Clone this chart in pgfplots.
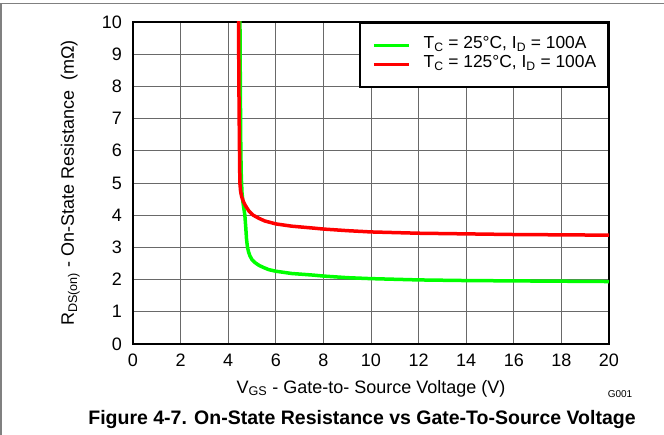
\documentclass[border=0pt]{standalone}
\usepackage{fontspec}
\setmainfont{Liberation Sans}
\usepackage{pgfplots}
\pgfplotsset{compat=1.18}
\definecolor{gridc}{RGB}{105,105,105}
\definecolor{framec}{RGB}{128,128,128}
\definecolor{cgreen}{RGB}{0,255,0}
\definecolor{cred}{RGB}{255,0,0}
\begin{document}
\fontsize{18bp}{21bp}\selectfont
\begin{tikzpicture}
\useasboundingbox (-133bp,-91bp) rectangle (531bp,344bp);
\begin{axis}[
 at={(0,0)}, anchor=south west,
 scale only axis, width=476bp, height=322bp,
 xmin=0, xmax=20, ymin=0, ymax=10,
 xtick={0,2,...,20}, ytick={0,1,...,10},
 grid=major, grid style={gridc, line width=0.8bp},
 major tick length=0pt,
 axis line style={line width=1.6bp, black},
 /pgf/number format/assume math mode=true,
 tick label style={font=\fontsize{18bp}{21bp}\selectfont},
 xticklabel style={anchor=base, yshift=-22.7bp},
 yticklabel style={anchor=east, inner sep=0pt, xshift=-11bp},
 xlabel={V\textsubscript{GS} - Gate-to- Source Voltage (V)},
 ylabel={R\textsubscript{DS(on)} - On-State Resistance\ \ (mΩ)},
 every axis x label/.style={at={(axis description cs:0.5,-0.1522)}, anchor=base},
 every axis y label/.style={at={(axis description cs:-0.124,0.5)}, rotate=90, anchor=base},
 legend style={at={(rel axis cs:1,1)}, anchor=north east, draw=black, line width=1.6bp, fill=white,
   inner xsep=12bp, inner ysep=13bp, row sep=0pt,
   font=\fontsize{17.4bp}{21bp}\selectfont,
   nodes={inner sep=0pt, text height=13bp, text depth=6bp},
   /tikz/every odd column/.append style={column sep=13bp}},
 legend cell align=left,
 legend image code/.code={\draw[#1] (0bp,0bp) -- (35bp,0bp);},
]
\addplot[cgreen, line width=3.5bp] coordinates {
(4.49,10.5) (4.51,8) (4.53,6) (4.55,5.2) (4.58,4.7) (4.62,4.4) (4.66,4.2) (4.70,4.0)
(4.74,3.6) (4.77,3.26) (4.81,3.0) (4.86,2.85) (4.91,2.74) (5.0,2.62) (5.12,2.53)
(5.3,2.44) (5.47,2.38) (5.7,2.31) (6,2.26) (6.66,2.19) (7.57,2.14) (8,2.11)
(9,2.06) (10,2.03) (12,1.99) (14,1.97) (16,1.96) (18,1.95) (20,1.94)};
\addlegendentry{T\textsubscript{C} = 25°C, I\textsubscript{D} = 100A}
\addplot[cred, line width=3.5bp] coordinates {
(4.43,10.5) (4.45,8) (4.47,6.3) (4.49,5.0) (4.52,4.75) (4.56,4.59) (4.64,4.42)
(4.73,4.29) (4.88,4.12) (5.05,4.0) (5.3,3.9) (5.54,3.82) (6,3.73) (6.66,3.66)
(7.57,3.60) (8,3.57) (9,3.52) (10,3.48) (12,3.44) (14,3.42) (16,3.40) (18,3.39) (20,3.38)};
\addlegendentry{T\textsubscript{C} = 125°C, I\textsubscript{D} = 100A}
\end{axis}
\draw[framec, line width=1.2bp] (-133bp,340.5bp) -- (531bp,340.5bp);
\draw[framec, line width=1.2bp] (-132bp,340.5bp) -- (-132bp,-91bp);
\node[anchor=base, font=\bfseries\fontsize{19.5bp}{22bp}\selectfont] at (229bp,-80bp) {Figure 4-7. On-State Resistance vs Gate-To-Source Voltage};
\node[anchor=base, font=\fontsize{10bp}{12bp}\selectfont] at (487bp,-53bp) {G001};
\end{tikzpicture}
\end{document}
